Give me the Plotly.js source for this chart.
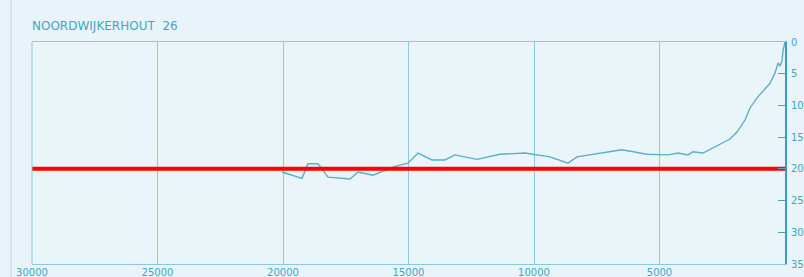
<!DOCTYPE html>
<html>
<head>
<meta charset="utf-8">
<script src="https://cdn.plot.ly/plotly-3.0.1.min.js"></script>
<style>
  html, body { margin: 0; padding: 0; background: #e8f4f9; }
  #chart { width: 804px; height: 277px; }
</style>
</head>
<body>
<div id="chart"></div>
<script>
// Profile: distance (m) vs depth (m)
const distance = [20040, 19243, 19004, 18605, 18207, 17330, 17012, 16414, 15538, 15020,
                  14622, 14064, 13546, 13147, 12271, 11354, 10358, 9960, 9362, 8645,
                  8287, 6494, 5498, 4661, 4263, 3864, 3665, 3267, 2470, 2191,
                  1912, 1594, 1394, 1116, 598, 398, 279, 199, 120, 80, 0];
const depth = [20.5, 21.5, 19.2, 19.2, 21.3, 21.6, 20.5, 21.0, 19.6, 19.1,
               17.5, 18.6, 18.6, 17.8, 18.5, 17.7, 17.5, 17.7, 18.1, 19.1,
               18.1, 17.0, 17.7, 17.8, 17.5, 17.8, 17.3, 17.5, 15.9, 15.3,
               14.2, 12.3, 10.4, 8.8, 6.5, 4.9, 3.3, 3.8, 3.0, 1.4, 0];
// Reference level (red line)
const refDistance = [30000, 0];
const refDepth = [20, 20];

const xTickVals = [30000, 25000, 20000, 15000, 10000, 5000];
const xTickText = ["30000", "25000", "20000", "15000", "10000", "5000"];
const yTickVals = [0, 5, 10, 15, 20, 25, 30, 35];
const yTickText = ["0", "5", "10", "15", "20", "25", "30", "35"];
const chartTitle = "NOORDWIJKERHOUT&nbsp;&nbsp;26";

const teal = "#45a6bf";
const grid = "#8ccadb";

const traces = [
  {
    x: distance, y: depth, type: "scatter", mode: "lines",
    line: { color: "#5aafc4", width: 1.4 }, hoverinfo: "skip"
  },
  {
    x: refDistance, y: refDepth, type: "scatter", mode: "lines",
    line: { color: "#ff0000", width: 4 }, hoverinfo: "skip"
  }
];

const layout = {
  width: 804, height: 277,
  margin: { l: 32, r: 19, t: 42, b: 13, pad: 0 },
  paper_bgcolor: "#e8f4f9",
  plot_bgcolor: "#eaf5fa",
  showlegend: false,
  font: { family: "DejaVu Sans, sans-serif", color: teal, size: 10 },
  title: {
    text: chartTitle,
    x: 0, xanchor: "left", xref: "paper",
    y: 1 - 26 / 277, yanchor: "middle", yref: "container",
    font: { family: "DejaVu Sans, sans-serif", size: 12, color: teal }
  },
  xaxis: {
    range: [30000, 0],
    tickvals: xTickVals, ticktext: xTickText,
    showgrid: true, gridcolor: grid, gridwidth: 1,
    zeroline: false,
    showline: true, linecolor: grid, linewidth: 1, mirror: true,
    ticks: "", ticklabelstandoff: -1,
    tickfont: { size: 10, color: teal }
  },
  yaxis: {
    range: [35, 0],
    side: "right",
    tickvals: yTickVals, ticktext: yTickText,
    showgrid: false, zeroline: false,
    showline: true, linecolor: "#3a9cc0", linewidth: 2,
    ticks: "inside", ticklen: 7, tickcolor: teal, tickwidth: 1,
    ticklabelstandoff: 2,
    tickfont: { size: 10, color: teal }
  },
  shapes: [
    { type: "line", xref: "paper", yref: "paper", x0: 0, x1: 0, y0: 0, y1: 1,
      line: { color: grid, width: 1 } },
    { type: "line", xref: "paper", yref: "paper", x0: -21 / 753, x1: -21 / 753, y0: -13 / 222, y1: 1 + 42 / 222,
      line: { color: "#d3e9f1", width: 2 } }
  ]
};

Plotly.newPlot("chart", traces, layout, { staticPlot: true, displayModeBar: false });
</script>
</body>
</html>
